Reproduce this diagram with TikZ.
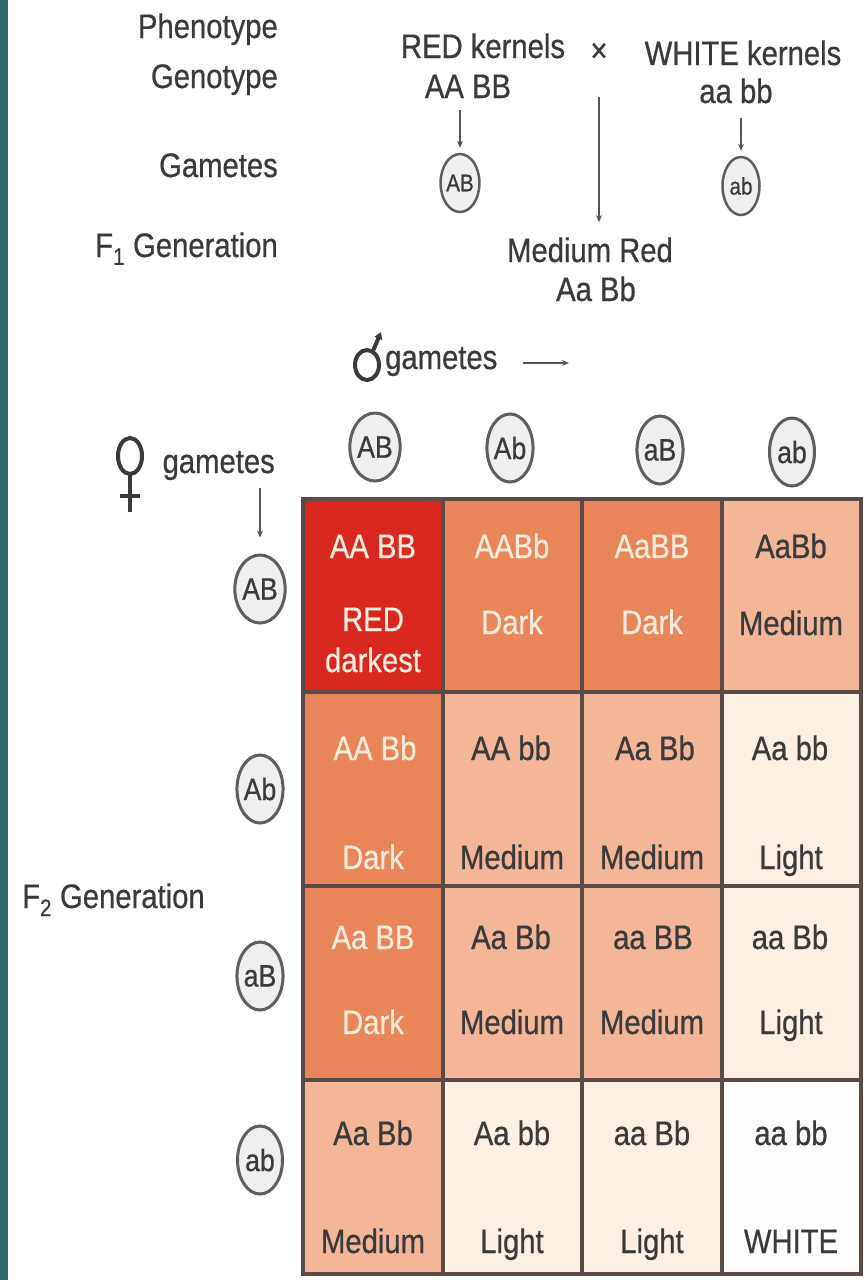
\documentclass[tikz,border=0pt]{standalone}
\usepackage{fontspec}
\setmainfont{Liberation Sans}[FakeStretch=0.86,FakeBold=0.6]
\usetikzlibrary{arrows.meta,shapes.geometric,calc}
\definecolor{txt}{HTML}{3A3A3A}
\definecolor{cream}{HTML}{FBEBDD}
\definecolor{cRed}{HTML}{D9281F}
\definecolor{cDark}{HTML}{E8865A}
\definecolor{cMed}{HTML}{F4B698}
\definecolor{cLight}{HTML}{FCEFE3}
\definecolor{cWhite}{HTML}{FEFDFB}
\definecolor{gridc}{HTML}{5A4B46}
\definecolor{ringc}{HTML}{5E5E5E}
\definecolor{ringfill}{HTML}{EFEFEF}
\definecolor{stripc}{HTML}{2F6A66}
\definecolor{linec}{HTML}{555555}
\begin{document}
\begin{tikzpicture}[x=1pt,y=-1pt,
 lbl/.style={font=\fontsize{34}{36}\selectfont, text=txt, inner sep=0pt, anchor=base},
 lblc/.style={lbl, text=cream},
 gam/.style={ellipse, draw=ringc, line width=3pt, fill=ringfill, minimum width=45pt, minimum height=68pt, inner sep=0pt, font=\fontsize{31}{33}\selectfont, text=txt},
 gams/.style={gam, minimum width=37pt, minimum height=58pt, font=\fontsize{24}{26}\selectfont, line width=2.5pt},
 arr/.style={draw=linec, line width=1.6pt, -{Stealth[length=7pt,width=6pt]}},
 gridline/.style={draw=gridc, line width=4pt},
 symb/.style={draw=txt, line width=4pt},
]
% background and bounding box
\fill[white] (0,0) rectangle (867,1280);
\useasboundingbox (0,0) rectangle (867,1280);
\fill[stripc] (0,0) rectangle (8,1280);

% ---- parental cross ----
\node[lbl, anchor=base east] (phen) at (278,38) {Phenotype};
\node[lbl, anchor=base east] (geno) at (278,88) {Genotype};
\node[lbl, anchor=base east] (gamt) at (278,177) {Gametes};
\node[lbl, anchor=base east] (fone) at (278,257) {F\textsubscript{1} Generation};
\node[lbl] (redk) at (483,58) {RED kernels};
\node[lbl] (cross) at (599,62) {×};
\node[lbl] (whitek) at (743,65) {WHITE kernels};
\node[lbl] (AABB) at (468,98) {AA BB};
\node[lbl] (aabb) at (736,103) {aa bb};
\node[gams] (gAB) at (460,183) {AB};
\node[gams] (gab) at (741,186) {ab};
\node[lbl] (medred) at (590,262) {Medium Red};
\node[lbl] (fAaBb) at (596,301) {Aa Bb};
\draw[arr, shorten <=12pt, shorten >=5pt] (gAB.north |- AABB.south) -- (gAB.north);
\draw[arr, shorten <=14pt, shorten >=5pt] (gab.north |- aabb.south) -- (gab.north);
\draw[arr, shorten <=35pt, shorten >=15pt] (cross.south) -- (cross.south |- medred.north);

% ---- male gametes ----
\draw[symb] (367,365) ellipse [x radius=12pt, y radius=15pt];
\draw[symb, -{Triangle[length=7pt,width=8pt]}] (373,351) -- (381,332);
\node[lbl, anchor=base west] (mgam) at (385,369) {gametes};
\coordinate (marr) at (569,363);
\draw[arr, shorten <=25pt] (mgam.east |- marr) -- (marr);

% ---- female gametes ----
\draw[symb] (130,456) ellipse [x radius=12pt, y radius=18pt];
\draw[symb] (130,474) -- (130,512);
\draw[symb] (120,496) -- (140,496);
\node[lbl, anchor=base east] (fgam) at (275,473) {gametes};

% ---- gamete circles ----
\node[gam] (gT1) at (375,447) {AB};
\node[gam] (gT2) at (510,448) {Ab};
\node[gam] (gT3) at (660,450) {aB};
\node[gam] (gT4) at (792,452) {ab};
\node[gam] (gL1) at (260,589) {AB};
\node[gam] (gL2) at (260,789) {Ab};
\node[gam] (gL3) at (260,976) {aB};
\node[gam] (gL4) at (260,1160) {ab};
\draw[arr, shorten <=8pt, shorten >=16pt] (gL1.north |- fgam.south) -- (gL1.north);

\node[lbl, anchor=base west] (ftwo) at (22,908) {F\textsubscript{2} Generation};

% ---- Punnett square cells ----
\fill[cRed]   (303,499) rectangle (443,692);
\fill[cDark]  (443,499) rectangle (582,692);
\fill[cDark]  (582,499) rectangle (722,692);
\fill[cMed]   (722,499) rectangle (861,692);
\fill[cDark]  (303,692) rectangle (443,886);
\fill[cMed]   (443,692) rectangle (582,886);
\fill[cMed]   (582,692) rectangle (722,886);
\fill[cLight] (722,692) rectangle (861,886);
\fill[cDark]  (303,886) rectangle (443,1080);
\fill[cMed]   (443,886) rectangle (582,1080);
\fill[cMed]   (582,886) rectangle (722,1080);
\fill[cLight] (722,886) rectangle (861,1080);
\fill[cMed]   (303,1080) rectangle (443,1274);
\fill[cLight] (443,1080) rectangle (582,1274);
\fill[cLight] (582,1080) rectangle (722,1274);
\fill[cWhite] (722,1080) rectangle (861,1274);
\draw[gridline] (303,499) rectangle (861,1274);
\draw[gridline] (443,499) -- (443,1274);
\draw[gridline] (582,499) -- (582,1274);
\draw[gridline] (722,499) -- (722,1274);
\draw[gridline] (303,692) -- (861,692);
\draw[gridline] (303,886) -- (861,886);
\draw[gridline] (303,1080) -- (861,1080);

% row 1
\node[lblc] (c11g) at (373,558) {AA BB};
\node[lblc] (c11p) at (373,631) {RED};
\node[lblc] (c11q) at (373,672) {darkest};
\node[lblc] (c12g) at (512,558) {AABb};
\node[lblc] (c12p) at (512,634) {Dark};
\node[lblc] (c13g) at (652,558) {AaBB};
\node[lblc] (c13p) at (652,634) {Dark};
\node[lbl]  (c14g) at (791,558) {AaBb};
\node[lbl]  (c14p) at (791,635) {Medium};
% row 2
\node[lblc] (c21g) at (375,760) {AA Bb};
\node[lblc] (c21p) at (373,869) {Dark};
\node[lbl]  (c22g) at (511,760) {AA bb};
\node[lbl]  (c22p) at (512,869) {Medium};
\node[lbl]  (c23g) at (655,760) {Aa Bb};
\node[lbl]  (c23p) at (652,869) {Medium};
\node[lbl]  (c24g) at (790,760) {Aa bb};
\node[lbl]  (c24p) at (791,869) {Light};
% row 3
\node[lblc] (c31g) at (373,949) {Aa BB};
\node[lblc] (c31p) at (373,1034) {Dark};
\node[lbl]  (c32g) at (511,949) {Aa Bb};
\node[lbl]  (c32p) at (512,1034) {Medium};
\node[lbl]  (c33g) at (653,949) {aa BB};
\node[lbl]  (c33p) at (652,1034) {Medium};
\node[lbl]  (c34g) at (790,949) {aa Bb};
\node[lbl]  (c34p) at (791,1034) {Light};
% row 4
\node[lbl] (c41g) at (373,1145) {Aa Bb};
\node[lbl] (c41p) at (373,1253) {Medium};
\node[lbl] (c42g) at (512,1145) {Aa bb};
\node[lbl] (c42p) at (512,1253) {Light};
\node[lbl] (c43g) at (652,1145) {aa Bb};
\node[lbl] (c43p) at (652,1253) {Light};
\node[lbl] (c44g) at (791,1145) {aa bb};
\node[lbl] (c44p) at (791,1253) {WHITE};
\end{tikzpicture}
\end{document}
